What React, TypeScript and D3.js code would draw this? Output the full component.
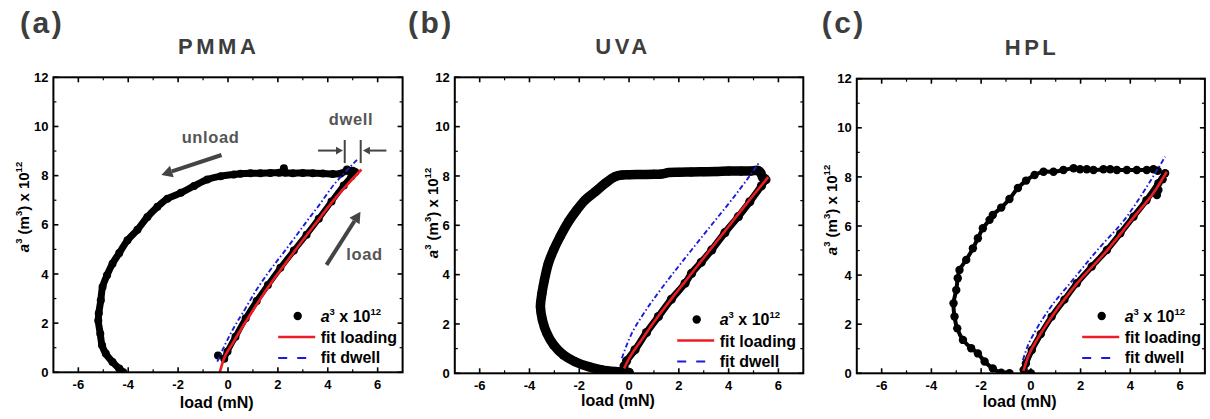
import React from "react";
import * as d3 from "d3";

type P = [number, number];

// ---------------- data ----------------
const panelTags = ["(a)", "(b)", "(c)"];
const panelTitles = ["PMMA", "UVA", "HPL"];
const xTickValues = [-6, -4, -2, 0, 2, 4, 6];
const xMinorValues = [-5, -3, -1, 1, 3, 5];
const yTickValues = [0, 2, 4, 6, 8, 10, 12];
const yMinorValues = [1, 3, 5, 7, 9, 11];
const xDomain: P = [-7, 7];
const yDomain: P = [0, 12];

const pmmaUnload: P[] = [
  [5.05, 8.12], [4.8, 8.2], [4.5, 8.08], [4.2, 8.07], [3.8, 8.09], [3.4, 8.1], [3.0, 8.11], [2.6, 8.1],
  [2.3, 8.12], [2.05, 8.12], [1.7, 8.11], [1.3, 8.1], [0.9, 8.1], [0.5, 8.08], [0.24, 8.05], [-0.29, 7.98],
  [-0.83, 7.84], [-1.36, 7.58], [-1.89, 7.3], [-2.43, 7.06], [-2.83, 6.73], [-3.23, 6.32], [-3.63, 5.8],
  [-4.03, 5.37], [-4.36, 4.85], [-4.63, 4.42], [-4.85, 3.95], [-5.03, 3.47], [-5.1, 2.93], [-5.18, 2.4],
  [-5.2, 2.1], [-5.12, 1.57], [-5.05, 1.1], [-4.9, 0.76], [-4.63, 0.42], [-4.36, 0.15], [-4.2, 0.0],
];
const pmmaLoad: P[] = [
  [-0.15, 0.55], [-0.02, 0.85], [0.3, 1.45], [0.71, 2.2], [1.15, 2.9], [1.6, 3.55], [2.1, 4.25],
  [2.64, 4.95], [3.15, 5.6], [3.64, 6.25], [4.15, 6.95], [4.64, 7.6], [4.95, 7.98], [5.1, 8.15],
];
const pmmaExtra: P[] = [[2.24, 8.3], [4.77, 8.25], [-0.4, 0.68], [5.0, 8.2]];
const pmmaFitLoading: P[] = [
  [-0.33, 0], [-0.2, 0.45], [0.2, 1.2], [0.8, 2.2], [1.6, 3.45], [2.5, 4.7], [3.4, 5.9], [4.2, 6.95],
  [4.8, 7.65], [5.35, 8.25],
];
const pmmaFitDwell: P[] = [
  [-0.43, 0.43], [-0.2, 0.95], [0.2, 1.75], [0.7, 2.6], [1.17, 3.4], [1.6, 4.03], [2.4, 5.1], [3.24, 6.25],
  [3.61, 6.74], [4.3, 7.7], [4.75, 8.2], [5.17, 8.64],
];

const uvaUnload: P[] = [
  [5.3, 8.1], [5.19, 8.22], [4.9, 8.2], [4.5, 8.2], [4.0, 8.2], [3.5, 8.18], [3.0, 8.17], [2.5, 8.16],
  [2.0, 8.15], [1.6, 8.14], [1.3, 8.08], [1.0, 8.07], [0.5, 8.06], [0.0, 8.05], [-0.29, 8.04], [-0.56, 7.97],
  [-0.96, 7.7], [-1.36, 7.36], [-1.76, 7.03], [-2.1, 6.62], [-2.43, 6.15], [-2.77, 5.54], [-3.03, 5.0],
  [-3.24, 4.46], [-3.4, 3.78], [-3.5, 3.24], [-3.56, 2.7], [-3.48, 2.16], [-3.3, 1.62], [-3.03, 1.15],
  [-2.63, 0.74], [-2.17, 0.47], [-1.63, 0.27], [-1.1, 0.14], [-0.56, 0.07], [0.0, 0.03],
];
const uvaLoad: P[] = [
  [-0.2, 0.3], [-0.1, 0.5], [0.24, 0.95], [0.7, 1.65], [1.18, 2.3], [1.7, 3.0], [2.25, 3.65], [2.51, 4.05],
  [2.9, 4.5], [3.32, 5.0], [3.85, 5.7], [4.39, 6.35], [4.85, 6.95], [5.32, 7.6], [5.5, 7.85],
];
const uvaExtra: P[] = [[5.45, 7.9], [5.35, 7.95]];
const uvaFitLoading: P[] = [
  [-0.2, 0.2], [0.0, 0.6], [0.5, 1.35], [1.2, 2.35], [2.0, 3.4], [2.9, 4.55], [3.8, 5.7], [4.7, 6.85],
  [5.59, 7.95],
];
const uvaFitDwell: P[] = [
  [-0.29, 0.61], [-0.15, 1.0], [0.1, 1.6], [0.51, 2.3], [1.2, 3.3], [2.0, 4.35], [2.51, 5.0], [3.3, 6.0],
  [4.12, 7.03], [4.7, 7.8], [5.25, 8.58],
];

const hplUnload: P[] = [
  [5.1, 8.25], [4.93, 8.31], [4.66, 8.28], [4.26, 8.28], [3.86, 8.28], [3.46, 8.28], [3.19, 8.31],
  [2.92, 8.31], [2.52, 8.28], [2.25, 8.31], [1.98, 8.31], [1.72, 8.35], [1.31, 8.28], [0.91, 8.21],
  [0.51, 8.21], [0.15, 8.08], [-0.19, 7.85], [-0.52, 7.55], [-0.86, 7.1], [-1.19, 6.75], [-1.53, 6.45],
  [-1.66, 6.25], [-1.93, 5.91], [-2.13, 5.5], [-2.33, 5.09], [-2.6, 4.62], [-2.87, 4.21], [-2.94, 3.87],
  [-3.0, 3.39], [-3.11, 2.85], [-3.07, 2.31], [-2.96, 1.83], [-2.73, 1.36], [-2.4, 1.02], [-2.13, 0.81],
  [-1.86, 0.48], [-1.53, 0.2], [-1.19, 0.02], [-0.86, 0.0],
];
const hplLoad: P[] = [
  [-0.29, 0.14], [-0.2, 0.4], [0.04, 0.95], [0.4, 1.6], [0.84, 2.31], [1.35, 3.0], [1.85, 3.67],
  [2.45, 4.35], [3.06, 5.02], [3.6, 5.7], [4.13, 6.38], [4.65, 7.05], [5.13, 7.74], [5.4, 8.15],
];
const hplExtra: P[] = [[5.13, 7.47], [5.07, 7.26], [5.3, 7.9], [0.0, 0.0]];
const hplFitLoading: P[] = [
  [-0.3, 0.1], [-0.1, 0.7], [0.3, 1.45], [0.84, 2.3], [1.85, 3.65], [3.06, 5.0], [4.13, 6.35], [5.0, 7.45],
  [5.47, 8.21],
];
const hplFitDwell: P[] = [
  [-0.32, 0.54], [-0.15, 1.05], [0.2, 1.75], [0.8, 2.7], [1.58, 3.67], [2.7, 5.05], [3.86, 6.38], [4.6, 7.5],
  [5.4, 8.82],
];

const seriesSets = [
  { unload: pmmaUnload, load: pmmaLoad, extra: pmmaExtra, fitLoading: pmmaFitLoading, fitDwell: pmmaFitDwell },
  { unload: uvaUnload, load: uvaLoad, extra: uvaExtra, fitLoading: uvaFitLoading, fitDwell: uvaFitDwell },
  { unload: hplUnload, load: hplLoad, extra: hplExtra, fitLoading: hplFitLoading, fitDwell: hplFitDwell },
];

// annotation anchors for panel (a), in data units
const unloadArrow: P[] = [[-0.26, 8.84], [-2.67, 8.03]];
const loadArrow: P[] = [[3.95, 4.37], [5.31, 6.53]];
const dwellArrowLeft: P[] = [[3.61, 9.02], [4.61, 9.02]];
const dwellArrowRight: P[] = [[6.35, 9.02], [5.41, 9.02]];
const dwellBars: P[] = [[4.68, 9.45], [4.68, 8.51], [5.32, 9.45], [5.32, 8.51]];
const annotationTexts: { text: string; at: P }[] = [
  { text: "unload", at: [-0.7, 9.32] },
  { text: "dwell", at: [4.93, 10.06] },
  { text: "load", at: [5.47, 4.57] },
];

// ---------------- layout ----------------
const layouts = [
  { left: 53.4, right: 402.6, top: 77.3, bottom: 372.3, yLabelX: 29, yLabelY: 207, xLabelX: 216.7, xLabelY: 408, titleX: 218.7, titleY: 54, tagX: 20, tagY: 33, legendX: 297.7, legendY: 316, band: 7, loadBand: 6, r: 4 },
  { left: 454.8, right: 803.3, top: 77.3, bottom: 373.3, yLabelX: 438, yLabelY: 213, xLabelX: 618, xLabelY: 406, titleX: 623, titleY: 53.5, tagX: 408, tagY: 33, legendX: 696.7, legendY: 319.5, band: 9.5, loadBand: 7, r: 4.6 },
  { left: 856.8, right: 1204.9, top: 78.7, bottom: 373.3, yLabelX: 837, yLabelY: 210, xLabelX: 1019.7, xLabelY: 407, titleX: 1032, titleY: 55, tagX: 821.7, tagY: 33, legendX: 1101.7, legendY: 316, band: 4, loadBand: 6, r: 4.2 },
];

const FONT = "'Liberation Sans', Arial, Helvetica, sans-serif";
const RED = "#ee1c24";
const BLUE = "#1c1cd8";
const GRAY = "#444444";

function Arrow({ from, to, width, head }: { from: [number, number]; to: [number, number]; width: number; head: number }) {
  const dx = to[0] - from[0];
  const dy = to[1] - from[1];
  const len = Math.hypot(dx, dy);
  const ux = dx / len;
  const uy = dy / len;
  const bx = to[0] - ux * head;
  const by = to[1] - uy * head;
  const px = -uy;
  const py = ux;
  const hw = head * 0.55;
  return (
    <g>
      <line x1={from[0]} y1={from[1]} x2={bx} y2={by} stroke={GRAY} strokeWidth={width} />
      <polygon points={`${to[0]},${to[1]} ${bx + px * hw},${by + py * hw} ${bx - px * hw},${by - py * hw}`} fill={GRAY} />
    </g>
  );
}

function Panel({ i }: { i: number }) {
  const L = layouts[i];
  const S = seriesSets[i];
  const x = d3.scaleLinear().domain(xDomain).range([L.left, L.right]);
  const y = d3.scaleLinear().domain(yDomain).range([L.bottom, L.top]);
  const band = d3.line<P>().x((d) => x(d[0])).y((d) => y(d[1])).curve(d3.curveCatmullRom);
  const fit = d3.line<P>().x((d) => x(d[0])).y((d) => y(d[1])).curve(d3.curveMonotoneX);
  const clipId = `plotclip-${i}`;
  const major = 5;
  const minor = 3;
  const legendTextX = L.legendX + 23;

  return (
    <g fontFamily={FONT}>
      <defs>
        <clipPath id={clipId}>
          <rect x={L.left} y={L.top} width={L.right - L.left} height={L.bottom - L.top} />
        </clipPath>
      </defs>

      {/* panel tag and title */}
      <text x={L.tagX} y={L.tagY} fontSize={30} fontWeight="bold" fill="#3d3d3d" letterSpacing={2.5}>{panelTags[i]}</text>
      <text x={L.titleX} y={L.titleY} fontSize={22} fontWeight="bold" fill="#3d3d3d" letterSpacing={3.5} textAnchor="middle">{panelTitles[i]}</text>

      {/* data */}
      <g clipPath={`url(#${clipId})`}>
        <path d={band(S.unload) || ""} fill="none" stroke="#000" strokeWidth={L.band} strokeLinejoin="round" strokeLinecap="round" />
        <path d={band(S.load) || ""} fill="none" stroke="#000" strokeWidth={L.loadBand} strokeLinejoin="round" strokeLinecap="round" />
        {[...S.unload, ...S.load, ...S.extra].map((d, k) => (
          <circle key={k} cx={x(d[0])} cy={y(d[1])} r={L.r} fill="#000" />
        ))}
        <path d={fit(S.fitLoading) || ""} fill="none" stroke={RED} strokeWidth={2.6} />
        <path d={fit(S.fitDwell) || ""} fill="none" stroke={BLUE} strokeWidth={1.9} strokeDasharray="5,2.5,1.5,2.5" />
      </g>

      {/* frame */}
      <rect x={L.left} y={L.top} width={L.right - L.left} height={L.bottom - L.top} fill="none" stroke="#000" strokeWidth={2} />

      {/* ticks */}
      {xTickValues.map((v) => (
        <g key={`xt${v}`}>
          <line x1={x(v)} x2={x(v)} y1={L.bottom} y2={L.bottom - major} stroke="#000" strokeWidth={1.6} />
          <line x1={x(v)} x2={x(v)} y1={L.top} y2={L.top + major} stroke="#000" strokeWidth={1.6} />
          <text x={x(v)} y={L.bottom + 16.5} fontSize={13} fontWeight="bold" textAnchor="middle" fill="#000">{v}</text>
        </g>
      ))}
      {xMinorValues.map((v) => (
        <g key={`xm${v}`}>
          <line x1={x(v)} x2={x(v)} y1={L.bottom} y2={L.bottom - minor} stroke="#000" strokeWidth={1.2} />
          <line x1={x(v)} x2={x(v)} y1={L.top} y2={L.top + minor} stroke="#000" strokeWidth={1.2} />
        </g>
      ))}
      {yTickValues.map((v) => (
        <g key={`yt${v}`}>
          <line x1={L.left} x2={L.left + major} y1={y(v)} y2={y(v)} stroke="#000" strokeWidth={1.6} />
          <line x1={L.right} x2={L.right - major} y1={y(v)} y2={y(v)} stroke="#000" strokeWidth={1.6} />
          <text x={L.left - 5} y={y(v)} dy="0.36em" fontSize={13} fontWeight="bold" textAnchor="end" fill="#000">{v}</text>
        </g>
      ))}
      {yMinorValues.map((v) => (
        <g key={`ym${v}`}>
          <line x1={L.left} x2={L.left + minor} y1={y(v)} y2={y(v)} stroke="#000" strokeWidth={1.2} />
          <line x1={L.right} x2={L.right - minor} y1={y(v)} y2={y(v)} stroke="#000" strokeWidth={1.2} />
        </g>
      ))}

      {/* axis titles */}
      <text x={L.xLabelX} y={L.xLabelY} fontSize={16} fontWeight="bold" textAnchor="middle" fill="#000">load (mN)</text>
      <text transform={`translate(${L.yLabelX},${L.yLabelY}) rotate(-90)`} fontSize={15} fontWeight="bold" textAnchor="middle" fill="#000">
        <tspan fontStyle="italic">a</tspan>
        <tspan fontSize={9.5} dy={-7}>3</tspan>
        <tspan dy={7}> (m</tspan>
        <tspan fontSize={9.5} dy={-7}>3</tspan>
        <tspan dy={7}>) x 10</tspan>
        <tspan fontSize={9.5} dy={-7}>12</tspan>
      </text>

      {/* legend */}
      <circle cx={L.legendX} cy={L.legendY} r={4.2} fill="#000" />
      <text x={legendTextX} y={L.legendY + 5.5} fontSize={16} fontWeight="bold" fill="#000">
        <tspan fontStyle="italic">a</tspan>
        <tspan fontSize={9.5} dy={-7}>3</tspan>
        <tspan dy={7}> x 10</tspan>
        <tspan fontSize={9.5} dy={-7}>12</tspan>
      </text>
      <line x1={L.legendX - 19.5} x2={L.legendX + 17.5} y1={L.legendY + 21} y2={L.legendY + 21} stroke={RED} strokeWidth={2.6} />
      <text x={legendTextX} y={L.legendY + 27} fontSize={16} fontWeight="bold" fill="#000">fit loading</text>
      <line x1={L.legendX - 19.5} x2={L.legendX + 17.5} y1={L.legendY + 42} y2={L.legendY + 42} stroke={BLUE} strokeWidth={2} strokeDasharray="9,10" />
      <text x={legendTextX} y={L.legendY + 47} fontSize={16} fontWeight="bold" fill="#000">fit dwell</text>

      {/* annotations (panel a only) */}
      {i === 0 && (
        <g>
          <Arrow from={[x(unloadArrow[0][0]), y(unloadArrow[0][1])]} to={[x(unloadArrow[1][0]), y(unloadArrow[1][1])]} width={4} head={11} />
          <Arrow from={[x(loadArrow[0][0]), y(loadArrow[0][1])]} to={[x(loadArrow[1][0]), y(loadArrow[1][1])]} width={4} head={11} />
          <Arrow from={[x(dwellArrowLeft[0][0]), y(dwellArrowLeft[0][1])]} to={[x(dwellArrowLeft[1][0]), y(dwellArrowLeft[1][1])]} width={2} head={7} />
          <Arrow from={[x(dwellArrowRight[0][0]), y(dwellArrowRight[0][1])]} to={[x(dwellArrowRight[1][0]), y(dwellArrowRight[1][1])]} width={2} head={7} />
          <line x1={x(dwellBars[0][0])} x2={x(dwellBars[1][0])} y1={y(dwellBars[0][1])} y2={y(dwellBars[1][1])} stroke={GRAY} strokeWidth={2} />
          <line x1={x(dwellBars[2][0])} x2={x(dwellBars[3][0])} y1={y(dwellBars[2][1])} y2={y(dwellBars[3][1])} stroke={GRAY} strokeWidth={2} />
          {annotationTexts.map((a) => (
            <text key={a.text} x={x(a.at[0])} y={y(a.at[1])} fontSize={16.5} fontWeight="bold" fill="#555" textAnchor="middle" letterSpacing={0.6}>{a.text}</text>
          ))}
        </g>
      )}
    </g>
  );
}

export default function App() {
  return (
    <svg width={1210} height={419} style={{ position: "absolute", left: 0, top: 0, background: "#fff" }}>
      <rect x={0} y={0} width={1210} height={419} fill="#fff" />
      {[0, 1, 2].map((i) => (
        <Panel key={i} i={i} />
      ))}
    </svg>
  );
}
